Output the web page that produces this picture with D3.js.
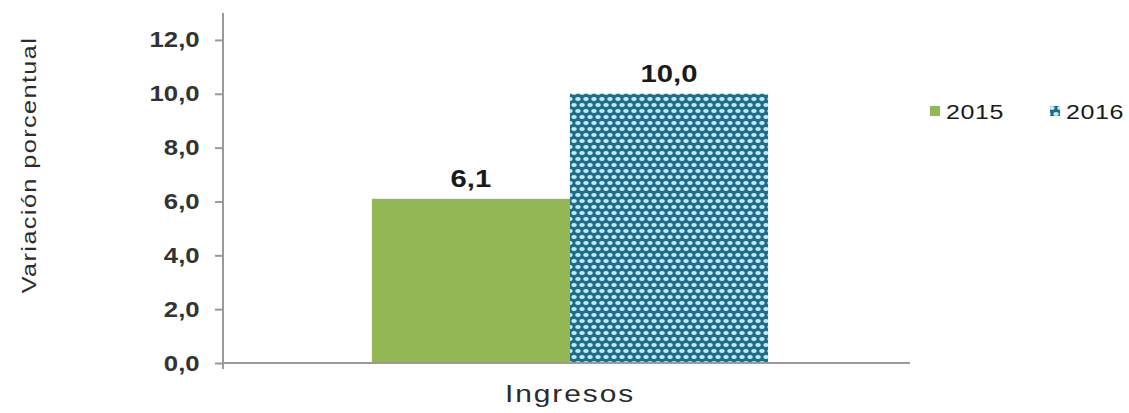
<!DOCTYPE html>
<html>
<head>
<meta charset="utf-8">
<script src="https://d3js.org/d3.v7.min.js"></script>
<style>
body { margin: 0; background: #fff; font-family: 'Liberation Sans', Arial, sans-serif; }
</style>
</head>
<body>
<svg width="1129" height="413"></svg>
<script>
var categories = ["Ingresos"];
var years = ["2015", "2016"];
var values2015 = [6.1];
var values2016 = [10.0];
var yTicks = [0, 2, 4, 6, 8, 10, 12];

var svg = d3.select("svg");
var defs = svg.append("defs");

// dotted teal fill for 2016 (staggered light dots)
var pat = defs.append("pattern").attr("id", "dots")
    .attr("patternUnits", "userSpaceOnUse")
    .attr("width", 8).attr("height", 12);
pat.append("rect").attr("width", 8).attr("height", 12).attr("fill", "#1e6c8a");
[[2, 3], [6, 9], [6, -3], [-2, 9], [10, 3], [2, 15]].forEach(function (p) {
    pat.append("ellipse").attr("cx", p[0]).attr("cy", p[1]).attr("rx", 2.7).attr("ry", 1.9).attr("fill", "#c2ecf8");
});

var fills = { "2015": "#93b853", "2016": "url(#dots)" };
var fmt = function (d) { return d3.format(".1f")(d).replace(".", ","); };
var sx = 1.17; // the original text is a bit wider than Liberation Sans

// plot edges (don't use "top" as a global name - it's window.top)
var plotL = 223, plotR = 910, plotT = 13, plotB = 363;

var y = d3.scaleLinear().domain([0, 13]).range([plotB, plotT]);
var x = d3.scaleBand().domain(categories).range([plotL, plotR])
    .paddingInner(0).paddingOuter(0.367).align(0.512);
var xs = d3.scaleBand().domain(years).range([0, x.bandwidth()]);

// y axis
var yAxis = svg.append("g").attr("transform", "translate(" + plotL + ",0)")
    .call(d3.axisLeft(y).tickValues(yTicks).tickSize(8).tickPadding(12).tickFormat(fmt));
yAxis.select(".domain").attr("stroke", "#9a9a9a").attr("stroke-width", 2)
    .attr("d", "M0," + (plotB + 6) + "V" + plotT);
yAxis.selectAll(".tick line").attr("stroke", "#9a9a9a").attr("stroke-width", 2);
yAxis.selectAll(".tick text").attr("fill", "#333").attr("font-size", 22)
    .attr("font-weight", "bold").attr("transform", "scale(" + sx + ",1)")
    .attr("font-family", "'Liberation Sans', Arial, sans-serif");

var data = [];
categories.forEach(function (c, i) {
    data.push({ cat: c, year: "2015", v: values2015[i] });
    data.push({ cat: c, year: "2016", v: values2016[i] });
});

svg.selectAll("rect.bar").data(data).enter().append("rect").attr("class", "bar")
    .attr("x", function (d) { return x(d.cat) + xs(d.year); })
    .attr("width", xs.bandwidth())
    .attr("y", function (d) { return y(d.v); })
    .attr("height", function (d) { return y(0) - y(d.v); })
    .attr("fill", function (d) { return fills[d.year]; });

// x axis
svg.append("line").attr("x1", plotL).attr("x2", plotR).attr("y1", plotB).attr("y2", plotB)
    .attr("stroke", "#9a9a9a").attr("stroke-width", 2);

svg.selectAll("text.val").data(data).enter().append("text").attr("class", "val")
    .attr("transform", function (d) {
        return "translate(" + (x(d.cat) + xs(d.year) + xs.bandwidth() / 2) + "," + (y(d.v) - 12) + ") scale(1.22,1)";
    })
    .attr("text-anchor", "middle").attr("font-size", 24).attr("font-weight", "bold")
    .attr("fill", "#1a1a1a")
    .text(function (d) { return fmt(d.v); });

// category label
svg.selectAll("text.cat").data(categories).enter().append("text").attr("class", "cat")
    .attr("transform", function (d) { return "translate(" + (x(d) + x.bandwidth() / 2) + ",402) scale(1.3,1)"; })
    .attr("text-anchor", "middle")
    .attr("font-size", 23).attr("letter-spacing", 1.5).attr("fill", "#2b2b2b")
    .text(function (d) { return d; });

// y axis title
svg.append("text").attr("transform", "translate(36,165) rotate(-90) scale(1.2,1)")
    .attr("text-anchor", "middle").attr("font-size", 21).attr("letter-spacing", 1.2)
    .attr("fill", "#2b2b2b").text("Variación porcentual");

// legend
var legX = [930, 1050];
var leg = svg.selectAll("g.leg").data(years).enter().append("g").attr("class", "leg")
    .attr("transform", function (d, i) { return "translate(" + legX[i] + ",105)"; });
leg.append("rect").attr("width", 10).attr("height", 10).attr("y", 1)
    .attr("fill", function (d) { return fills[d]; });
leg.append("text").attr("transform", "translate(16,14) scale(1.25,1)").attr("font-size", 20)
    .attr("letter-spacing", 0.5).attr("fill", "#1a1a1a").text(function (d) { return d; });
</script>
</body>
</html>
